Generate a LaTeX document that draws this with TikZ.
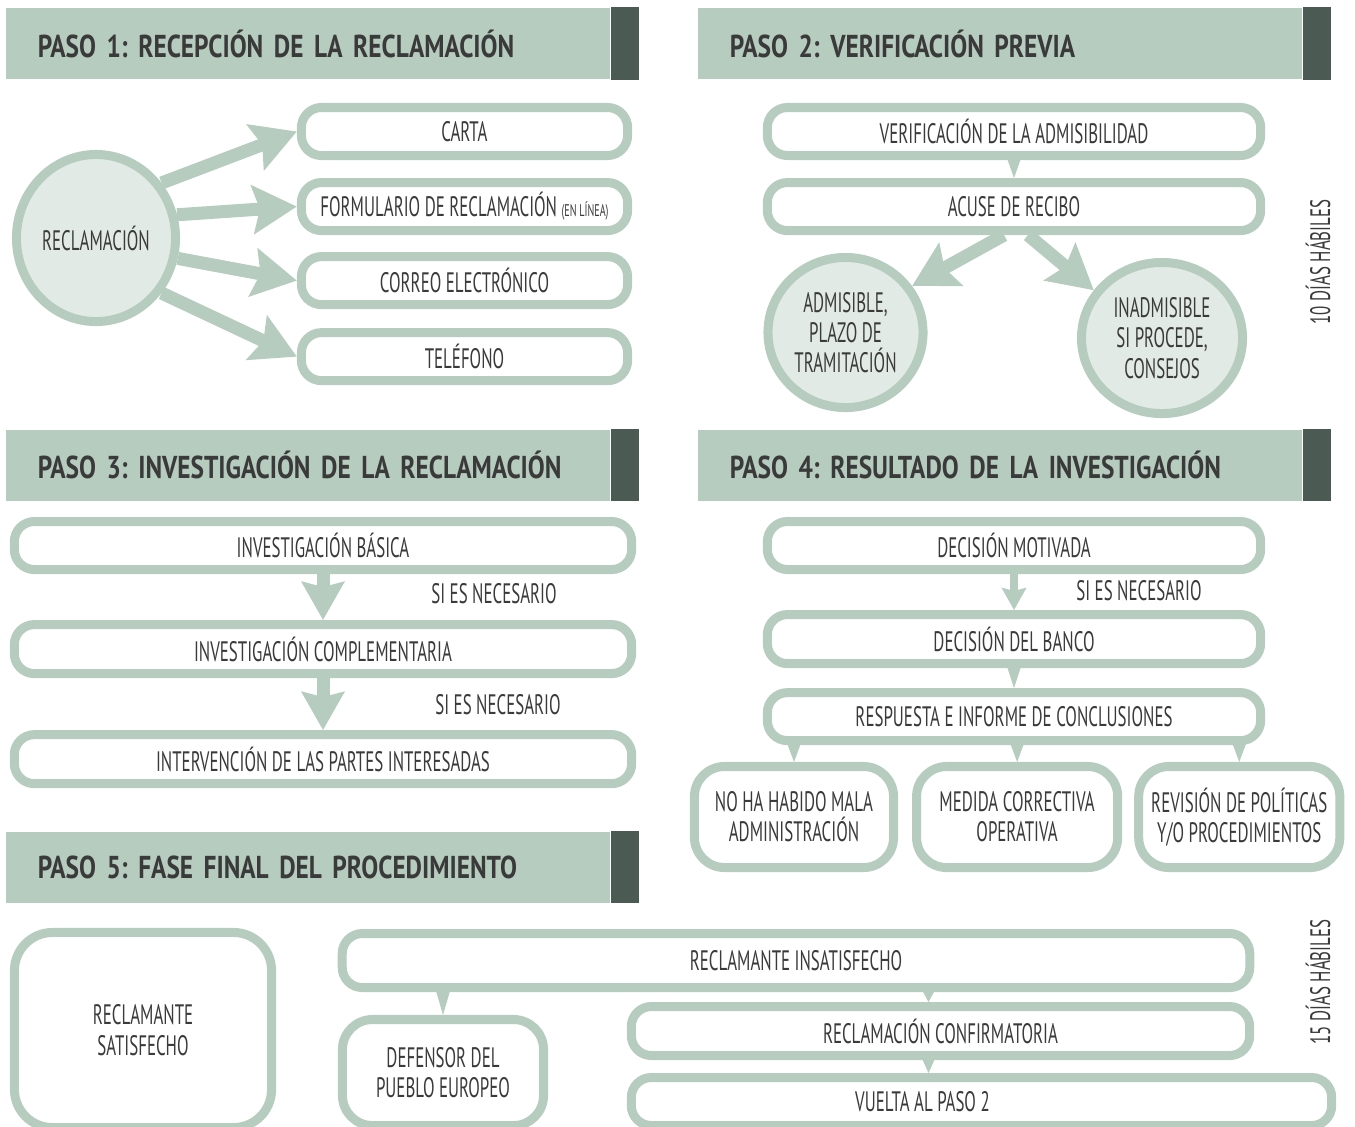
\documentclass[tikz,border=0pt]{standalone}
\usepackage{fontspec}
\setmainfont{PT Sans}[FakeStretch=0.60]
\newfontfamily\headfont{PT Sans}[FakeStretch=0.80, WordSpace=0.6]
\frenchspacing
\hyphenpenalty=10000
\usetikzlibrary{shapes.geometric, arrows.meta, positioning, calc}
\definecolor{paleGreen}{HTML}{B6CCBF}
\definecolor{barGreen}{HTML}{4B5B54}
\definecolor{ovalFill}{HTML}{E2EAE5}
\definecolor{inkGray}{HTML}{3A3A3A}
\tikzset{
  box/.style={
    rectangle, rounded corners=#1, draw=paleGreen, line width=0.09cm,
    fill=white, text=inkGray, align=center, inner sep=0pt,
    font=\fontsize{8}{8.6}\selectfont
  },
  box/.default=0.2cm,
  oval/.style={
    ellipse, draw=paleGreen, line width=0.09cm, fill=ovalFill,
    text=inkGray, align=center, inner sep=0pt,
    font=\fontsize{8}{8.6}\selectfont
  },
  headbar/.style={
    rectangle, fill=paleGreen, minimum height=0.71cm, text width=5.4cm,
    inner xsep=0.32cm, inner ysep=0pt, align=left, text=inkGray,
    font=\headfont\bfseries\fontsize{9}{10}\selectfont
  },
  note/.style={text=inkGray, inner sep=0pt, font=\fontsize{8}{8.6}\selectfont},
  bigarrow/.style={draw=paleGreen, line width=0.13cm,
    -{Stealth[length=0.44cm, width=0.48cm, inset=0.07cm]}},
  medarrow/.style={draw=paleGreen, line width=0.13cm,
    -{Stealth[length=0.38cm, width=0.42cm, inset=0.05cm]}},
  smallarrow/.style={draw=paleGreen, line width=0.08cm,
    -{Stealth[length=0.22cm, width=0.24cm, inset=0.03cm]}},
  tri/.style={draw=paleGreen, line width=0.2pt,
    -{Triangle[length=#1, width=0.16cm]}},
  tri/.default=0.23cm
}

\begin{document}
\begin{tikzpicture}[x=0.01cm, y=-0.01cm, node distance=0.18cm]
  \useasboundingbox (0,0) rectangle (1355,1126);
  \clip (0,0) rectangle (1355,1126);

  % headers
  \node[headbar, minimum width=6.04cm] (h1) at (308,43.5)
    {PASO 1: RECEPCIÓN DE LA RECLAMACIÓN};
  \node[headbar, minimum width=6.04cm] (h2) at (1000,43.5)
    {PASO 2: VERIFICACIÓN PREVIA};
  \node[headbar, minimum width=6.04cm] (h3) at (308,465)
    {PASO 3: INVESTIGACIÓN DE LA RECLAMACIÓN};
  \node[headbar, minimum width=6.04cm] (h4) at (1000,465)
    {PASO 4: RESULTADO DE LA INVESTIGACIÓN};
  \node[headbar, minimum width=6.04cm] (h5) at (308,867)
    {PASO 5: FASE FINAL DEL PROCEDIMIENTO};
  \foreach \h in {h1,h2,h3,h4,h5}{%
    \fill[barGreen] (\h.north east) rectangle ($(\h.south east)+(28,0)$);}

  % paso 1
  \node[oval, minimum width=1.59cm, minimum height=1.67cm] (recl) at (96,238)
    {RECLAMACIÓN};
  \node[box, minimum width=3.26cm, minimum height=0.48cm] (carta) at (464.5,131.5)
    {CARTA};
  \node[box, minimum width=3.26cm, minimum height=0.48cm, below=of carta] (form)
    {FORMULARIO DE RECLAMACIÓN {\fontsize{4.8}{5}\selectfont (EN LÍNEA)}};
  \node[box, minimum width=3.26cm, minimum height=0.48cm, below=0.17cm of form] (correo)
    {CORREO ELECTRÓNICO};
  \node[box, minimum width=3.26cm, minimum height=0.48cm, below=0.19cm of correo] (tel)
    {TELÉFONO};
  \foreach \a/\t in {40/carta,16/form,-14/correo,-40/tel}{%
    \draw[bigarrow] (recl.\a) -- (\t.west);}

  % paso 2
  \node[box, minimum width=4.93cm, minimum height=0.48cm] (verif) at (1014,131.5)
    {VERIFICACIÓN DE LA ADMISIBILIDAD};
  \node[box, minimum width=4.93cm, minimum height=0.48cm, below=of verif] (acuse)
    {ACUSE DE RECIBO};
  \node[oval, minimum width=1.55cm, minimum height=1.50cm] (admis) at (845.5,332.5)
    {ADMISIBLE,\\PLAZO DE\\TRAMITACIÓN};
  \node[oval, minimum width=1.61cm, minimum height=1.51cm] (inadm) at (1162,338)
    {INADMISIBLE\\SI PROCEDE,\\CONSEJOS};
  \draw[tri] (verif.south) -- (acuse.north);
  \draw[bigarrow] ([xshift=-0.1cm]acuse.south) -- (admis.35);
  \draw[bigarrow] ([xshift=0.14cm]acuse.south) -- (inadm.145);
  \node[note, rotate=90] (d10) at (1318,262) {10 DÍAS HÁBILES};

  % paso 3
  \node[box, minimum width=6.17cm, minimum height=0.48cm] (basica) at (323,545.5)
    {INVESTIGACIÓN BÁSICA};
  \node[box, minimum width=6.17cm, minimum height=0.49cm, below=0.46cm of basica] (complem)
    {INVESTIGACIÓN COMPLEMENTARIA};
  \node[box, minimum width=6.17cm, minimum height=0.49cm, below=0.52cm of complem] (interv)
    {INTERVENCIÓN DE LAS PARTES INTERESADAS};
  \draw[medarrow] (basica) -- (complem);
  \draw[medarrow] (complem) -- (interv);
  \node[note] (si1) at (494,594) {SI ES NECESARIO};
  \node[note] (si2) at (498,705) {SI ES NECESARIO};

  % paso 4
  \node[box, minimum width=4.93cm, minimum height=0.48cm] (motiv) at (1014,545.5)
    {DECISIÓN MOTIVADA};
  \node[box, minimum width=4.93cm, minimum height=0.49cm, below=0.36cm of motiv] (banco)
    {DECISIÓN DEL BANCO};
  \node[box, minimum width=4.93cm, minimum height=0.48cm, below=0.2cm of banco] (resp)
    {RESPUESTA E INFORME DE CONCLUSIONES};
  \node[box=0.3cm, minimum width=1.99cm, minimum height=1.01cm] (nomal) at (794,817)
    {NO HA HABIDO MALA\\ADMINISTRACIÓN};
  \node[box=0.3cm, minimum width=2.01cm, minimum height=1.01cm, right=0.14cm of nomal] (medida)
    {MEDIDA CORRECTIVA\\OPERATIVA};
  \node[box=0.3cm, minimum width=2.01cm, minimum height=1.01cm, right=0.12cm of medida] (revis)
    {REVISIÓN DE POLÍTICAS\\Y/O PROCEDIMIENTOS};
  \draw[smallarrow] (motiv) -- (banco);
  \draw[tri=0.25cm] (banco.south) -- (resp.north);
  \foreach \t in {nomal,medida,revis}{%
    \draw[tri=0.22cm] (resp.south -| \t) -- (\t.north);}
  \node[note] (si3) at (1139,591) {SI ES NECESARIO};

  % paso 5
  \node[box=0.38cm, minimum width=2.57cm, minimum height=1.95cm] (satisf) at (143,1030)
    {RECLAMANTE\\SATISFECHO};
  \node[box, minimum width=9.07cm, minimum height=0.54cm] (insat) at (796,960.5)
    {RECLAMANTE INSATISFECHO};
  \node[box=0.3cm, minimum width=2.01cm, minimum height=1.06cm] (defensor) at (443,1072.5)
    {DEFENSOR DEL\\PUEBLO EUROPEO};
  \node[box, minimum width=6.18cm, minimum height=0.49cm] (confirm) at (940.5,1031)
    {RECLAMACIÓN CONFIRMATORIA};
  \node[box, minimum width=7.00cm, minimum height=0.48cm] (vuelta) at (981.5,1101.5)
    {\hspace*{-1.18cm}VUELTA AL PASO 2};
  \draw[tri=0.28cm] (insat.south -| defensor) -- (defensor.north);
  \draw[tri=0.15cm] ([xshift=-0.12cm]insat.south -| confirm) -- ([xshift=-0.12cm]confirm.north);
  \draw[tri=0.18cm] ([xshift=-0.12cm]confirm.south) -- ([xshift=-0.12cm]confirm.south |- vuelta.north);
  \node[note, rotate=90] (d15) at (1318,982) {15 DÍAS HÁBILES};
\end{tikzpicture}
\end{document}
